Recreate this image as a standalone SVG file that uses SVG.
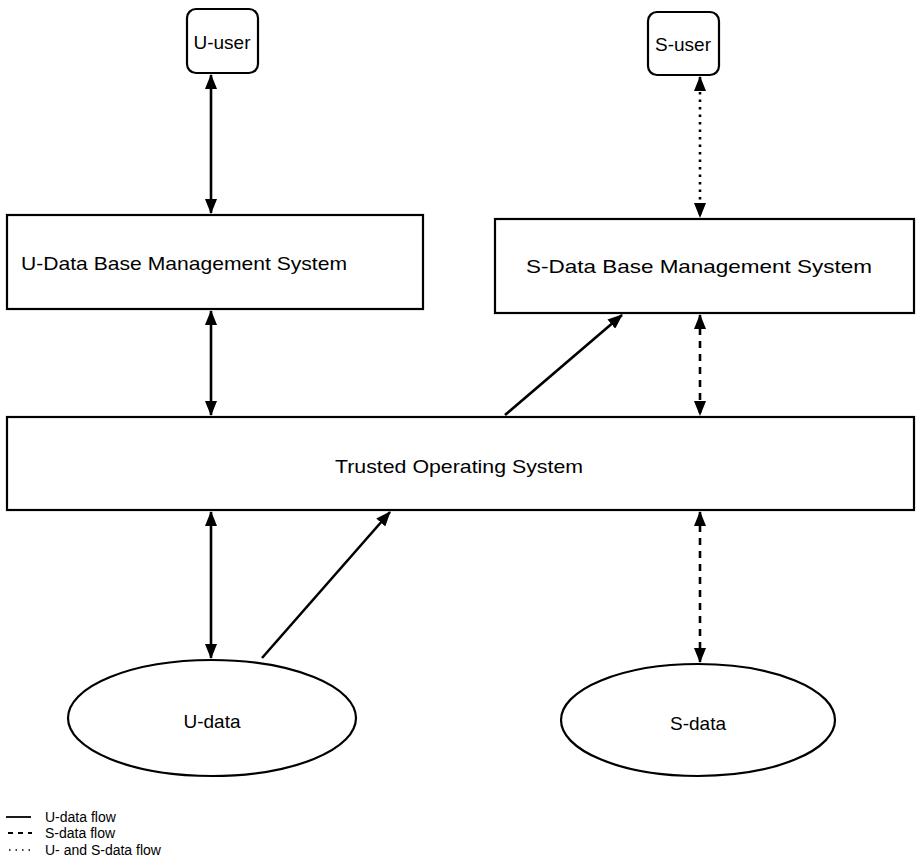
<svg xmlns="http://www.w3.org/2000/svg" width="917" height="866" viewBox="0 0 917 866">
  <style>
    .box { fill: #fff; stroke: #000; stroke-width: 2.2; }
    .lbl { font-family: "Liberation Sans", Arial, sans-serif; font-size: 19px; fill: #000; text-anchor: middle; dominant-baseline: central; }
    .leg { font-family: "Liberation Sans", Arial, sans-serif; font-size: 14px; fill: #000; dominant-baseline: central; }
    .flow { stroke: #000; stroke-width: 2.6; fill: none; }
    .s { stroke-dasharray: 7 6; }
    .us { stroke-dasharray: 2.5 5; }
    .dbl { marker-start: url(#head); marker-end: url(#head); }
    .one { marker-end: url(#head); }
  </style>
  <defs>
    <marker id="head" markerUnits="userSpaceOnUse" markerWidth="15" markerHeight="12" refX="14" refY="6" orient="auto-start-reverse">
      <path d="M0,0 L15,6 L0,12 z" fill="#000"/>
    </marker>
  </defs>
  <rect width="917" height="866" fill="#fff"/>

  <g id="u-user">
    <rect class="box" x="187" y="9" width="71" height="64" rx="9"/>
    <text class="lbl" x="222" y="42">U-user</text>
  </g>
  <g id="s-user">
    <rect class="box" x="648" y="12" width="71" height="63" rx="9"/>
    <text class="lbl" x="683" y="44">S-user</text>
  </g>
  <g id="u-dbms">
    <rect class="box" x="7" y="215" width="416" height="94"/>
    <text class="lbl" x="184" y="263" textLength="326" lengthAdjust="spacingAndGlyphs">U-Data Base Management System</text>
  </g>
  <g id="s-dbms">
    <rect class="box" x="495" y="219" width="419" height="94"/>
    <text class="lbl" x="699" y="266" textLength="346" lengthAdjust="spacingAndGlyphs">S-Data Base Management System</text>
  </g>
  <g id="tos">
    <rect class="box" x="7" y="417" width="907" height="93"/>
    <text class="lbl" x="459" y="466" textLength="248" lengthAdjust="spacingAndGlyphs">Trusted Operating System</text>
  </g>
  <g id="u-data">
    <ellipse class="box" cx="212" cy="718" rx="144" ry="58"/>
    <text class="lbl" x="212" y="721">U-data</text>
  </g>
  <g id="s-data">
    <ellipse class="box" cx="698" cy="720" rx="137" ry="56"/>
    <text class="lbl" x="698" y="723">S-data</text>
  </g>

  <g id="connectors">
    <line class="flow dbl" x1="211" y1="75" x2="211" y2="213"/>
    <line class="flow us dbl" x1="700" y1="77" x2="700" y2="217"/>
    <line class="flow dbl" x1="211" y1="311" x2="211" y2="415"/>
    <line class="flow one" x1="505" y1="415" x2="622" y2="315"/>
    <line class="flow s dbl" x1="700" y1="315" x2="700" y2="415"/>
    <line class="flow dbl" x1="211" y1="512" x2="211" y2="658"/>
    <line class="flow one" x1="262" y1="658" x2="390" y2="512"/>
    <line class="flow s dbl" x1="700" y1="512" x2="700" y2="662"/>
  </g>

  <g id="legend">
    <line x1="6" y1="817" x2="31" y2="817" stroke="#000" stroke-width="1.8"/>
    <text class="leg" x="45" y="817">U-data flow</text>
    <line x1="8" y1="833" x2="32" y2="833" stroke="#000" stroke-width="1.8" stroke-dasharray="5 5"/>
    <text class="leg" x="45" y="833">S-data flow</text>
    <line x1="9" y1="850" x2="33" y2="850" stroke="#000" stroke-width="1.5" stroke-dasharray="1.5 5"/>
    <text class="leg" x="45" y="850">U- and S-data flow</text>
  </g>
</svg>
